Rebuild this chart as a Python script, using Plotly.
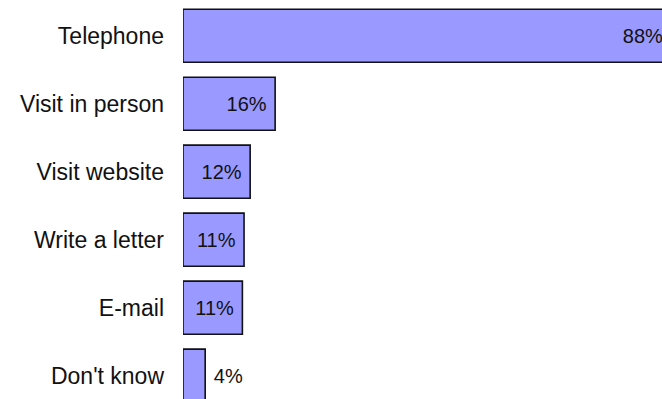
import plotly.graph_objects as go

categories = ["Telephone", "Visit in person", "Visit website", "Write a letter", "E-mail", "Don't know"]
values = [88.0, 16.6, 12.1, 11.0, 10.7, 4.0]
labels = ["88%", "16%", "12%", "11%", "11%", "4%"]

FONT = "Arial, Liberation Sans, sans-serif"
NB = "\u00a0"
templates = ["%{text}" + NB if v > 6 else NB + "%{text}" for v in values]

fig = go.Figure(
    go.Bar(
        y=categories,
        x=values,
        orientation="h",
        text=labels,
        texttemplate=templates,
        textposition="auto",
        insidetextanchor="end",
        constraintext="none",
        cliponaxis=True,
        marker=dict(color="#9999FF", line=dict(color="#111111", width=1.6)),
        textfont=dict(family=FONT, size=20, color="#111111"),
        insidetextfont=dict(family=FONT, size=20, color="#111111"),
        outsidetextfont=dict(family=FONT, size=20, color="#111111"),
        hoverinfo="skip",
    )
)

fig.update_layout(
    width=662,
    height=399,
    margin=dict(l=183, r=0, t=0, b=0),
    paper_bgcolor="white",
    plot_bgcolor="white",
    bargap=0.22,
    showlegend=False,
    xaxis=dict(range=[0, 86.3], visible=False, fixedrange=True),
    yaxis=dict(
        type="category",
        categoryorder="array",
        categoryarray=categories,
        range=[5.343, -0.525],
        showgrid=False,
        showline=False,
        zeroline=False,
        ticks="",
        ticklabelstandoff=18,
        tickfont=dict(family=FONT, size=23, color="#111111"),
        fixedrange=True,
    ),
)

fig.write_html("out.html")
